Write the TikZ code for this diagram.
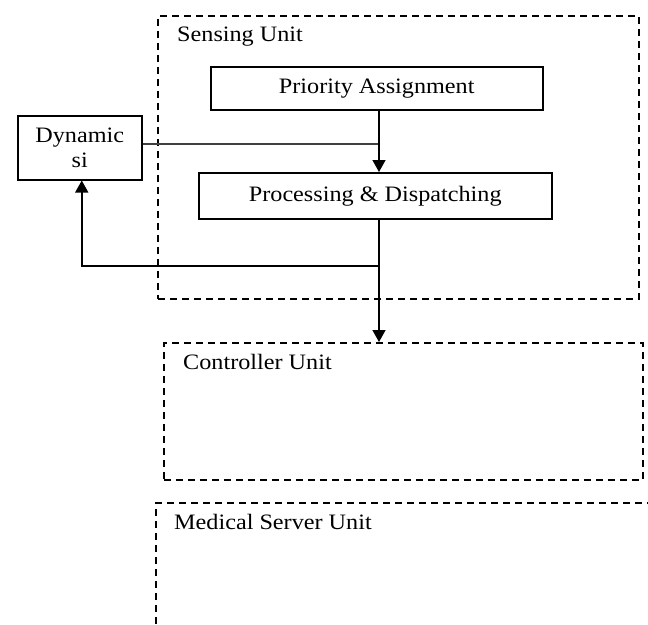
\documentclass[tikz,border=0pt]{standalone}
\usepackage{fontspec}
\setmainfont{Liberation Serif}[FakeStretch=1.1]
\usetikzlibrary{arrows.meta}
\begin{document}
\begin{tikzpicture}[x=1pt,y=-1pt,
  font=\fontsize{22}{25}\selectfont,
  dashline/.style={line width=1.8pt, dash pattern=on 7pt off 5pt},
  unitbox/.style={draw, dashline, inner sep=0pt, anchor=north west},
  stagebox/.style={draw, line width=1.5pt, inner sep=0pt, anchor=north west},
  unitlabel/.style={anchor=west, inner sep=0pt},
  link/.style={line width=1.5pt},
  flow/.style={link, -{Triangle[width=13pt,length=12pt]}}]
\useasboundingbox (0,0) rectangle (648,624);

% containers
\node[unitbox, minimum width=481pt, minimum height=283pt] (sense) at (157,15) {};
\node[unitbox, minimum width=479pt, minimum height=137pt] (ctrl) at (163,342) {};
\draw[dashline] (156,624) -- (156,503) -- (648,503);
\coordinate (medtop) at (156,503);

\node[unitlabel] (senselbl) at (177,37) {Sensing Unit};
\node[unitlabel] (ctrllbl) at (183,362) {Controller Unit};
\node[unitlabel] (medlbl) at (174,522) {Medical Server Unit};

% stages
\node[stagebox, minimum width=332pt, minimum height=43pt] (prio) at (210,66) {};
\node at (prio.center) {Priority Assignment};
\node[stagebox, minimum width=353pt, minimum height=46pt] (proc) at (198,172) {};
\node at (proc.center) {Processing \& Dispatching};
\node[stagebox, minimum width=124pt, minimum height=64pt] (dyn) at (17,115) {};
\node[align=center, inner sep=0pt] at (dyn.center) {Dynamic\\si};

% connectors
\coordinate (join) at (379,144);
\coordinate (split) at (379,266);
\draw[link, line width=1.2pt, black!75] (dyn.east |- join) -- (join);
\draw[flow] (prio.south -| join) -- (proc.north -| join);
\draw[flow] (proc.south -| join) -- (ctrl.north -| join);
\draw[flow] (split) -| ([xshift=2pt]dyn.south);
\end{tikzpicture}
\end{document}
